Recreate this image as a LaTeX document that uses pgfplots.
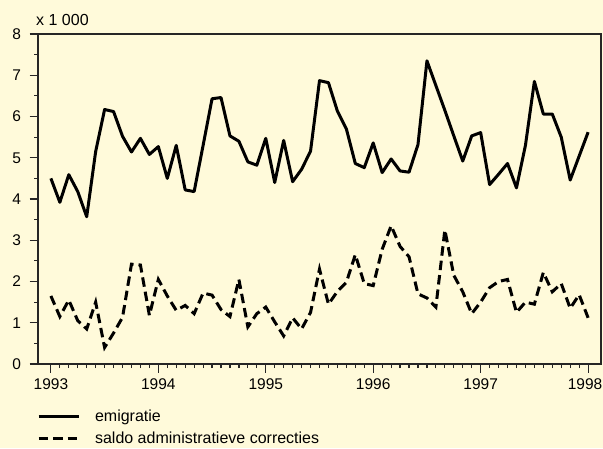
\documentclass[border=0pt]{standalone}
\usepackage{pgfplots}
\usepackage{pgfplotstable}
\pgfplotsset{compat=1.18}
\usepackage{fontspec}
\setmainfont{Liberation Sans}
\definecolor{bg}{RGB}{255,250,218}
\pgfplotstableread{
x y
0 4.50
1 3.92
2 4.59
3 4.18
4 3.57
5 5.15
6 6.17
7 6.12
8 5.52
9 5.14
10 5.47
11 5.08
12 5.27
13 4.50
14 5.30
15 4.22
16 4.18
17 5.30
18 6.43
19 6.46
20 5.53
21 5.40
22 4.90
23 4.82
24 5.47
25 4.40
26 5.42
27 4.42
28 4.72
29 5.16
30 6.87
31 6.82
32 6.13
33 5.70
34 4.86
35 4.76
36 5.36
37 4.64
38 4.97
39 4.68
40 4.65
41 5.32
42 7.35
43 6.75
44 6.15
45 5.53
46 4.92
47 5.53
48 5.61
49 4.35
50 4.60
51 4.86
52 4.27
53 5.30
54 6.85
55 6.06
56 6.06
57 5.50
58 4.46
59 5.04
60 5.62
}\emig
\pgfplotstableread{
x y
0 1.65
1 1.15
2 1.55
3 1.05
4 0.85
5 1.50
6 0.40
7 0.75
8 1.13
9 2.42
10 2.40
11 1.18
12 2.05
13 1.65
14 1.30
15 1.42
16 1.22
17 1.72
18 1.67
19 1.32
20 1.15
21 2.05
22 0.90
23 1.22
24 1.38
25 1.02
26 0.68
27 1.12
28 0.85
29 1.25
30 2.30
31 1.45
32 1.76
33 1.98
34 2.65
35 1.95
36 1.90
37 2.78
38 3.35
39 2.85
40 2.60
41 1.70
42 1.60
43 1.38
44 3.25
45 2.15
46 1.75
47 1.22
48 1.50
49 1.85
50 2.00
51 2.05
52 1.25
53 1.50
54 1.45
55 2.22
56 1.75
57 1.95
58 1.35
59 1.68
60 1.12
}\saldo
\begin{document}
\begin{tikzpicture}
\fill[bg] (0,0) rectangle (603pt,448pt);
\begin{axis}[
  at={(38pt,84pt)}, anchor=south west,
  width=563pt, height=330pt, scale only axis,
  xmin=1992.88, xmax=1998.12, ymin=0, ymax=8,
  axis background/.style={fill=bg},
  axis line style={line width=1.3pt, black!85},
  xtick={1993,1994,1995,1996,1997,1998},
  xticklabels={1993,1994,1995,1996,1997,{\hspace*{-6pt}1998}},
  ytick={0,1,2,3,4,5,6,7,8},
  minor x tick num=11, minor y tick num=1,
  tick align=outside, tick pos=left,
  major tick length=8.5pt, minor tick length=4pt,
  every tick/.style={line width=1.2pt, black!85},
  /pgf/number format/assume math mode=true,
  /pgf/number format/1000 sep={},
  tick label style={font=\fontsize{15.5}{18}\selectfont},
  yticklabel style={xshift=-5pt},
  xticklabel style={yshift=-3pt},
  clip=false,
  legend style={at={(-0.002,-0.138)}, anchor=north west, draw=none, fill=none,
    font=\fontsize{16}{18}\selectfont, row sep=9pt, column sep=15pt, inner sep=0pt,
    nodes={inner sep=0pt}},
  legend cell align=left,
  legend image code/.code={\draw[#1] (0pt,0pt) -- (40pt,0pt);},
]
\addplot[black, line width=3pt, line join=round] table[x expr=1993+\thisrow{x}/12, y=y] {\emig};
\addlegendentry{emigratie}
\addplot[black, line width=3pt, dash pattern=on 9.5pt off 5pt] table[x expr=1993+\thisrow{x}/12, y=y] {\saldo};
\addlegendentry{saldo administratieve correcties}
\node[anchor=south west, font=\fontsize{16}{18}\selectfont, inner sep=0pt] at ([xshift=-2pt,yshift=8pt]rel axis cs:0,1) {x 1 000};
\end{axis}
\pgfresetboundingbox
\useasboundingbox (0,0) rectangle (603pt,448pt);
\end{tikzpicture}
\end{document}
